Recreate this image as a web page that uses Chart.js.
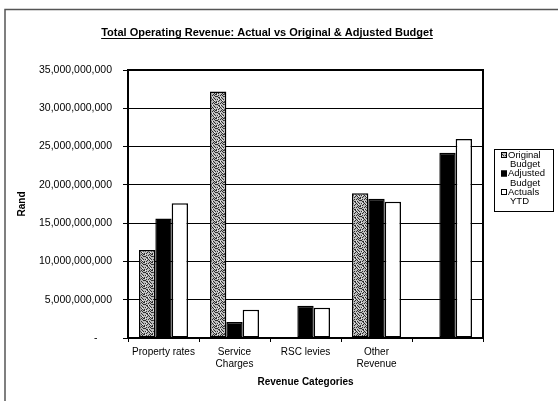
<!DOCTYPE html>
<html>
<head>
<meta charset="utf-8">
<script src="https://cdn.jsdelivr.net/npm/chart.js@4/dist/chart.umd.min.js"></script>
<style>
  html, body { margin: 0; padding: 0; background: #fff; }
  #wrap { width: 558px; height: 401px; position: relative; }
</style>
</head>
<body>
<div id="wrap"><canvas id="revenueChart" width="558" height="401"></canvas></div>
<script>
const chartTitle = 'Total Operating Revenue: Actual vs Original & Adjusted Budget';
const categories = ['Property rates', ['Service', 'Charges'], 'RSC levies', ['Other', 'Revenue'], ''];
const seriesNames = [['Original', 'Budget'], ['Adjusted', 'Budget'], ['Actuals', 'YTD']];
const originalBudget = [11.5e9, 32.2e9, 0, 18.9e9, 0];
const adjustedBudget = [15.6e9, 2.1e9, 4.2e9, 18.2e9, 24.2e9];
const actualsYTD = [17.6e9, 3.7e9, 3.95e9, 17.8e9, 26.0e9];
const yTicks = [0, 5e9, 10e9, 15e9, 20e9, 25e9, 30e9, 35e9];

// speckled grey fill like the scanned excel pattern
function makeStipple() {
    const c = document.createElement('canvas');
    c.width = 8; c.height = 8;
    const g = c.getContext('2d');
    g.fillStyle = '#bdbdbd';
    g.fillRect(0, 0, 8, 8);
    g.fillStyle = '#2e2e2e';
    const dots = [[0,0],[3,1],[6,2],[1,3],[5,4],[2,5],[7,6],[4,7],[2,1],[6,5],[4,3],[0,6],
                  [1,0],[5,1],[7,3],[3,4],[0,5],[5,6],[2,7],[6,7],[3,2],[7,0]];
    dots.forEach(d => g.fillRect(d[0], d[1], 1, 1));
    g.fillStyle = '#eee';
    [[4,1],[1,6],[6,4],[2,3]].forEach(d => g.fillRect(d[0], d[1], 1, 1));
    return g.createPattern(c, 'repeat');
}
const stipple = makeStipple();
const fills = [stipple, '#000', '#fff'];

const fontFam = '"Liberation Sans", Arial, sans-serif';

const framePlugin = {
    id: 'frame',
    beforeDraw(chart) {
        const ctx = chart.ctx;
        ctx.save();
        ctx.fillStyle = '#fff';
        ctx.fillRect(0, 0, chart.width, chart.height);
        ctx.strokeStyle = '#555';
        ctx.lineWidth = 1.5;
        ctx.beginPath();
        ctx.moveTo(5, 401);
        ctx.lineTo(5, 9.5);
        ctx.lineTo(558, 9.5);
        ctx.stroke();
        ctx.restore();
    },
    afterDraw(chart) {
        const ctx = chart.ctx;
        const a = chart.chartArea;
        ctx.save();
        // plot area border
        ctx.strokeStyle = '#000';
        ctx.lineWidth = 2;
        ctx.strokeRect(a.left, a.top, a.right - a.left, a.bottom - a.top);

        // title, underlined
        ctx.font = 'bold 11px ' + fontFam;
        ctx.fillStyle = '#000';
        ctx.textAlign = 'center';
        ctx.textBaseline = 'alphabetic';
        const tx = 267, ty = 36;
        ctx.fillText(chartTitle, tx, ty);
        const w = ctx.measureText(chartTitle).width;
        ctx.lineWidth = 1;
        ctx.beginPath();
        ctx.moveTo(tx - w / 2, ty + 2.5);
        ctx.lineTo(tx + w / 2, ty + 2.5);
        ctx.stroke();

        // legend box
        const lx = 494, ly = 149, lw = 59, lh = 62;
        ctx.lineWidth = 1;
        ctx.strokeRect(lx + 0.5, ly + 0.5, lw, lh);
        ctx.font = '9.5px ' + fontFam;
        ctx.textAlign = 'left';
        ctx.textBaseline = 'middle';
        chart.data.datasets.forEach((ds, i) => {
            const y = 155 + i * 18.5;
            ctx.fillStyle = ds.backgroundColor;
            ctx.fillRect(501, y - 3, 6, 6);
            ctx.strokeStyle = '#000';
            ctx.strokeRect(501.5, y - 2.5, 5, 5);
            ctx.fillStyle = '#000';
            ctx.fillText(ds.label[0], 508, y);
            ctx.fillText(ds.label[1], 510, y + 9.5);
        });
        ctx.restore();
    }
};

const ctx = document.getElementById('revenueChart').getContext('2d');
new Chart(ctx, {
    type: 'bar',
    data: {
        labels: categories,
        datasets: seriesNames.map((name, i) => ({
            label: name,
            data: [originalBudget, adjustedBudget, actualsYTD][i],
            backgroundColor: fills[i],
            borderColor: '#000',
            borderWidth: 1.5,
            borderSkipped: false,
            categoryPercentage: 0.69,
            barPercentage: 1
        }))
    },
    options: {
        responsive: false,
        animation: false,
        layout: { padding: { left: 10, right: 75, top: 70, bottom: 0 } },
        plugins: {
            legend: { display: false },
            title: { display: false },
            tooltip: { enabled: false }
        },
        scales: {
            x: {
                grid: { display: true, drawOnChartArea: false, drawTicks: true, tickLength: 4, color: '#000', lineWidth: 1 },
                border: { display: true, color: '#000', width: 2 },
                ticks: { color: '#000', font: { family: fontFam, size: 10 }, padding: 4, maxRotation: 0, autoSkip: false },
                title: {
                    display: true, text: 'Revenue Categories', color: '#000',
                    font: { family: fontFam, size: 10, weight: 'bold' },
                    padding: { top: 2, bottom: 13 }
                },
                afterFit(scale) { scale.height = 63; }
            },
            y: {
                min: 0,
                max: 35e9,
                afterBuildTicks(scale) { scale.ticks = yTicks.map(v => ({ value: v })); },
                grid: { color: '#000', lineWidth: 1, tickLength: 5 },
                border: { display: true, color: '#000', width: 2 },
                ticks: {
                    color: '#000',
                    padding: 11,
                    font: { family: fontFam, size: 10.5 },
                    callback: v => v === 0 ? '-     ' : Number(v).toLocaleString('en-US')
                },
                title: {
                    display: true, text: 'Rand', color: '#000',
                    font: { family: fontFam, size: 10, weight: 'bold' },
                    padding: { top: 6, bottom: 0 }
                },
                afterFit(scale) { scale.width = 118; }
            }
        }
    },
    plugins: [framePlugin]
});
</script>
</body>
</html>
